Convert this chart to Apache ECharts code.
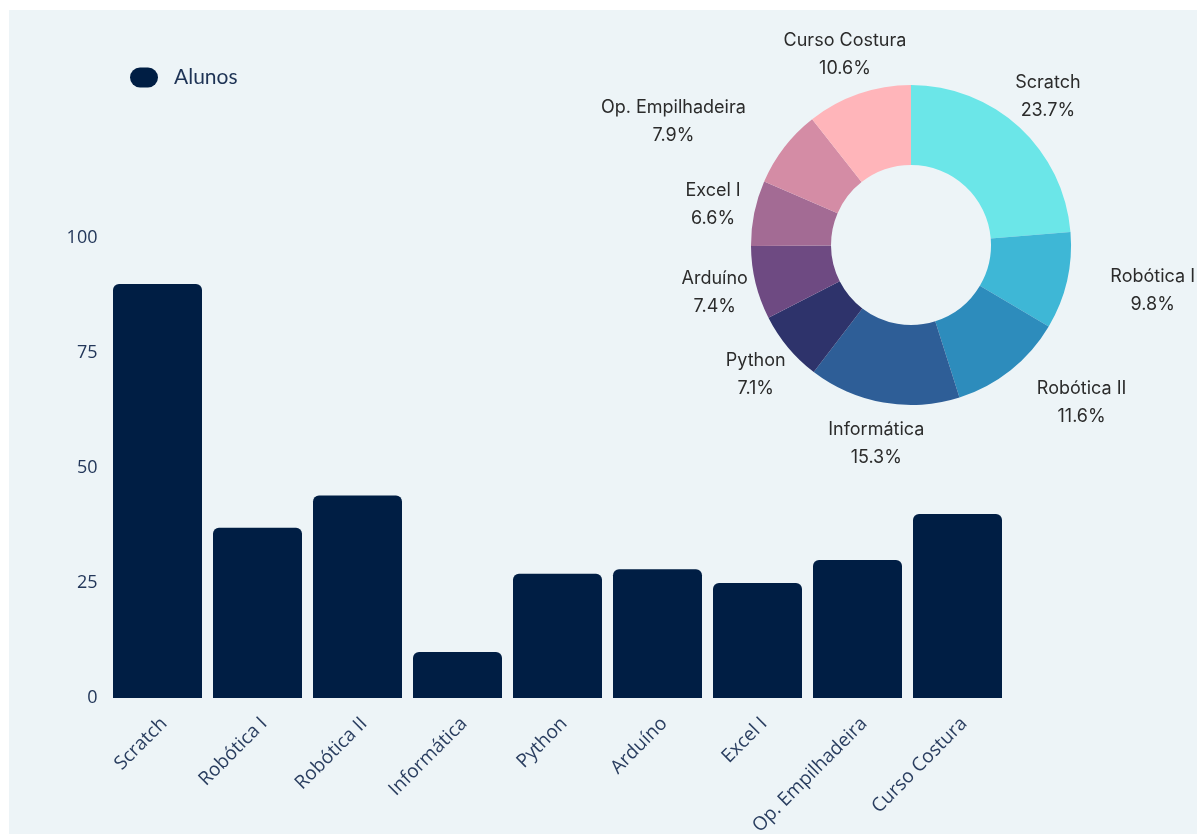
<!DOCTYPE html>
<html lang="pt">
<head>
<meta charset="UTF-8">
<title>Alunos por curso</title>
<script src="https://cdn.jsdelivr.net/npm/echarts@6/dist/echarts.min.js"></script>
<style>
  html, body { margin: 0; padding: 0; background: #ffffff; }
  #main { position: absolute; left: 9px; top: 10px; width: 1188px; height: 824px; }
</style>
</head>
<body>
<div id="main"></div>
<script>
    // dados
    const cursos = ['Scratch', 'Robótica I', 'Robótica II', 'Informática', 'Python', 'Arduíno', 'Excel I', 'Op. Empilhadeira', 'Curso Costura'];
    const alunos = [90, 37, 44, 10, 27, 28, 25, 30, 40];
    const percentuais = [23.7, 9.8, 11.6, 15.3, 7.1, 7.4, 6.6, 7.9, 10.6];
    const coresPizza = ['#6be6e8', '#3eb7d6', '#2d8cbc', '#2e5e97', '#2e336b', '#6e4a82', '#a36b94', '#d48ca5', '#ffb5ba'];

    const pieCenter = [902, 235];
    const pieRadius = 160;
    const labelRadius = 202;
    const labelGap = 41;

    // rótulo centrado no ângulo médio da fatia; se encostar no anel, empurra para fora na horizontal
    function labelPos(params) {
        const i = params.dataIndex;
        const total = percentuais.reduce(function (a, b) { return a + b; }, 0);
        let antes = 0;
        for (let k = 0; k < i; k++) antes += percentuais[k];
        const ang = (antes + percentuais[i] / 2) / total * 2 * Math.PI;
        const cx = pieCenter[0], cy = pieCenter[1];
        let x = cx + labelRadius * Math.sin(ang);
        const y = cy - labelRadius * Math.cos(ang);
        const w = params.labelRect.width;
        const h = params.labelRect.height * 0.8;
        const top = y - h / 2, bottom = y + h / 2;
        const dy = top > cy ? top - cy : (bottom < cy ? cy - bottom : 0);
        const reach = dy < pieRadius ? Math.sqrt(pieRadius * pieRadius - dy * dy) : 0;
        const side = Math.sin(ang) >= 0 ? 1 : -1;
        const near = side * (x - side * w / 2 - cx);
        if (reach > 0 && near < reach) {
            x = cx + side * (reach + labelGap + w / 2);
        }
        return { x: x, y: y, align: 'center', verticalAlign: 'middle' };
    }

    const myChart = echarts.init(document.getElementById('main'));
    const option = {
        backgroundColor: '#edf4f7',
        animation: false,
        legend: {
            data: ['Alunos'],
            left: 116,
            top: 52,
            itemWidth: 28,
            itemHeight: 20,
            icon: 'path://M10,0 L18,0 A10,10 0 0 1 18,20 L10,20 A10,10 0 0 1 10,0 Z',
            textStyle: {
                fontFamily: 'Lato',
                fontSize: 21,
                color: '#1e3355',
                padding: [0, 0, 0, 11]
            }
        },
        grid: {
            left: 98.5,
            right: 189.5,
            top: 228,
            bottom: 136,
            outerBoundsMode: 'none'
        },
        xAxis: {
            type: 'category',
            data: cursos,
            axisLine: { show: false },
            axisTick: { show: false },
            axisLabel: {
                interval: 0,
                rotate: 45,
                margin: 16,
                verticalAlign: 'top',
                fontFamily: 'Open Sans',
                fontSize: 19,
                color: '#2a3e60'
            }
        },
        yAxis: {
            type: 'value',
            min: 0,
            max: 100,
            interval: 25,
            splitLine: { show: false },
            axisLabel: {
                margin: 10,
                fontFamily: 'Open Sans',
                fontSize: 18,
                color: '#23375a'
            }
        },
        series: [{
            name: 'Alunos',
            type: 'bar',
            data: alunos,
            barCategoryGap: '11%',
            itemStyle: {
                color: '#001e44',
                borderRadius: [6, 6, 0, 0]
            }
        }, {
            name: 'Cursos',
            type: 'pie',
            center: pieCenter,
            radius: [80, pieRadius],
            startAngle: 90,
            clockwise: true,
            avoidLabelOverlap: false,
            percentPrecision: 1,
            data: cursos.map(function (c, i) {
                return { name: c, value: percentuais[i], itemStyle: { color: coresPizza[i] } };
            }),
            label: {
                position: 'outside',
                formatter: '{b}\n{d}%',
                fontFamily: 'Inter',
                fontSize: 18,
                lineHeight: 28,
                color: '#2b2b2b'
            },
            labelLine: { show: false },
            labelLayout: labelPos,
            emphasis: { disabled: true }
        }]
    };
    myChart.setOption(option);
</script>
</body>
</html>
